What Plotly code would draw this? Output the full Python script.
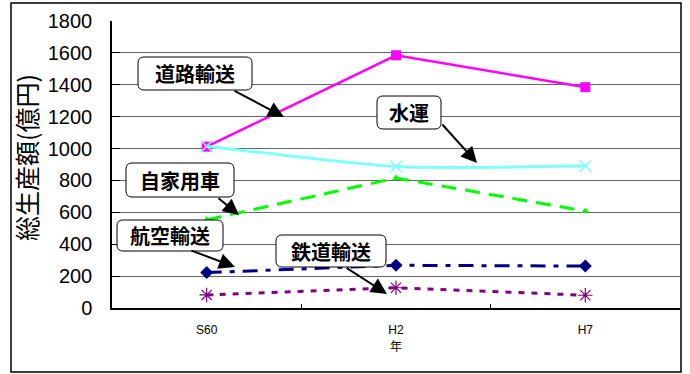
import plotly.graph_objects as go

# ---- data ----
years = ["S60", "H2", "H7"]
road = [1012, 1585, 1385]      # 道路輸送
water = [1015, 887, 890]       # 水運
car = [553, 815, 608]          # 自家用車
air = [222, 268, 263]          # 航空輸送
rail = [82, 127, 80]           # 鉄道輸送
y_ticks = [0, 200, 400, 600, 800, 1000, 1200, 1400, 1600, 1800]

W, H = 690, 374
L, R, T, B = 112, 680, 21, 308


def px(x):
    return (x - L) / (R - L)


def py(y):
    return (B - y) / (B - T)


fig = go.Figure()
fig.add_trace(go.Scatter(x=years, y=road, name="道路輸送", mode="lines+markers",
                         line=dict(color="#FF00FF", width=2.5),
                         marker=dict(symbol="square", size=10, color="#FF00FF")))
fig.add_trace(go.Scatter(x=years, y=water, name="水運", mode="lines+markers",
                         line=dict(color="#80FFFF", width=3, shape="spline", smoothing=0.6),
                         marker=dict(symbol="x-thin-open", size=12,
                                     line=dict(color="#33E6FF", width=1.5))))
fig.add_trace(go.Scatter(x=years, y=car, name="自家用車", mode="lines+markers",
                         line=dict(color="#00FF00", width=3, dash="15px,9px"),
                         marker=dict(symbol="triangle-up", size=7, color="#00FF00")))
fig.add_trace(go.Scatter(x=years, y=air, name="航空輸送", mode="lines+markers",
                         line=dict(color="#000080", width=3, dash="15px,8px,5px,8px"),
                         marker=dict(symbol="diamond", size=10, color="#000080")))
fig.add_trace(go.Scatter(x=years, y=rail, name="鉄道輸送", mode="lines+markers",
                         line=dict(color="#800080", width=3, dash="6px,7px"),
                         marker=dict(symbol="asterisk-open", size=12,
                                     line=dict(color="#800080", width=1.2))))

shapes = []
annotations = []

# outer frame
shapes.append(dict(type="rect", xref="paper", yref="paper",
                   x0=px(11), x1=px(681), y0=py(372), y1=py(3),
                   line=dict(color="black", width=1.5), fillcolor="rgba(0,0,0,0)", layer="below"))


def rounded(x0, y0, x1, y1, r=6):
    p = (f"M {px(x0 + r)},{py(y0)} L {px(x1 - r)},{py(y0)} "
         f"Q {px(x1)},{py(y0)} {px(x1)},{py(y0 + r)} "
         f"L {px(x1)},{py(y1 - r)} Q {px(x1)},{py(y1)} {px(x1 - r)},{py(y1)} "
         f"L {px(x0 + r)},{py(y1)} Q {px(x0)},{py(y1)} {px(x0)},{py(y1 - r)} "
         f"L {px(x0)},{py(y0 + r)} Q {px(x0)},{py(y0)} {px(x0 + r)},{py(y0)} Z")
    return dict(type="path", xref="paper", yref="paper", path=p,
                line=dict(color="black", width=1), fillcolor="white", layer="above")


labels = [
    # text, box(x0,y0,x1,y1), arrow tail, arrow tip
    ("道路輸送", (138, 57, 252, 90), (233, 90), (284, 117)),
    ("水運", (377, 96, 441, 129), (441, 123), (477, 163)),
    ("自家用車", (126, 163, 234, 197), (217, 197), (239, 215)),
    ("航空輸送", (117, 220, 223, 251), (190, 250), (235, 267)),
    ("鉄道輸送", (276, 235, 386, 267), (345, 267), (387, 294)),
]

for text, (x0, y0, x1, y1), tail, tip in labels:
    annotations.append(dict(xref="paper", yref="paper", x=px(tip[0]), y=py(tip[1]),
                            ax=tail[0] - tip[0], ay=tail[1] - tip[1],
                            text="", showarrow=True, arrowhead=2, arrowsize=1.6,
                            arrowwidth=2, arrowcolor="black", standoff=0))
    shapes.append(rounded(x0, y0, x1, y1))
    annotations.append(dict(xref="paper", yref="paper", x=px((x0 + x1) / 2), y=py((y0 + y1) / 2),
                            text=f"<b>{text}</b>", showarrow=False,
                            xanchor="center", yanchor="middle",
                            font=dict(family="Noto Sans CJK JP", size=20, color="black")))

# y-axis title
annotations.append(dict(xref="paper", yref="paper", x=px(26), y=py(158),
                        text="総生産額(億円)", showarrow=False, textangle=-90,
                        xanchor="center", yanchor="middle",
                        font=dict(family="Noto Sans CJK JP", size=25, color="black")))

fig.update_layout(
    width=W, height=H,
    margin=dict(l=L, r=W - R, t=T, b=H - B),
    paper_bgcolor="white", plot_bgcolor="white",
    showlegend=False,
    shapes=shapes, annotations=annotations,
    font=dict(family="Arial, Liberation Sans", color="black"),
)
fig.update_xaxes(type="category", categoryorder="array", categoryarray=years,
                 showgrid=False, showline=True, linecolor="black", linewidth=1.5,
                 ticks="inside", ticklen=4, tickcolor="black", tickson="boundaries",
                 tickfont=dict(size=12, family="Arial, Liberation Sans"),
                 ticklabelstandoff=10,
                 title=dict(text="年", font=dict(size=12, family="Noto Sans CJK JP"), standoff=4),
                 range=[-0.5, 2.5])
fig.update_yaxes(range=[0, 1800], tickvals=y_ticks, showgrid=True, gridcolor="#666666",
                 gridwidth=1, showline=True, linecolor="black", linewidth=1.5,
                 ticks="inside", ticklen=8, tickcolor="black",
                 tickfont=dict(size=20, family="Arial, Liberation Sans"),
                 ticklabelstandoff=14, zeroline=False)

fig.write_html("out.html")
